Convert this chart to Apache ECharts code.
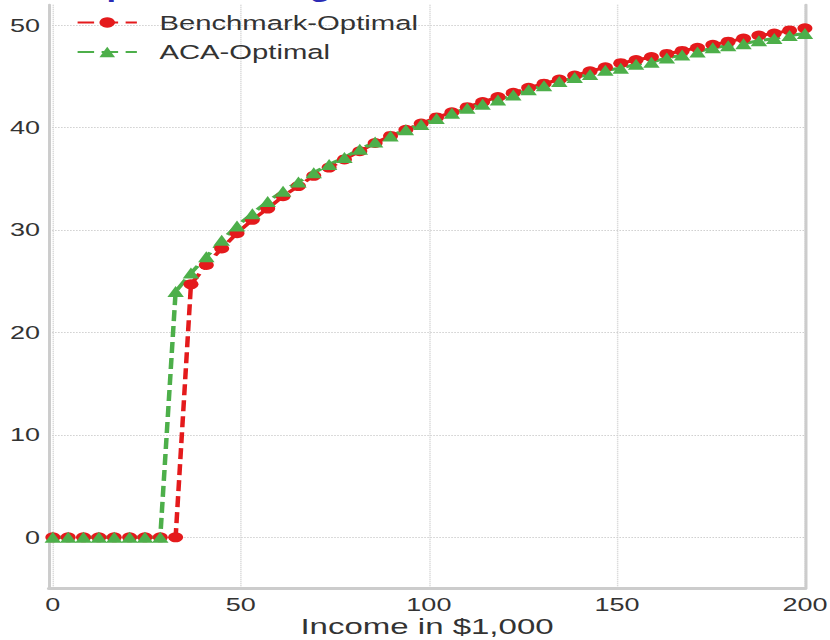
<!DOCTYPE html>
<html>
<head>
<meta charset="utf-8">
<script src="https://cdn.jsdelivr.net/npm/echarts@6/dist/echarts.min.js"></script>
<style>
html,body{margin:0;padding:0;width:830px;height:640px;overflow:hidden;background:#fff;}
#chart{position:absolute;left:0;top:0;width:553px;height:640px;transform:scaleX(1.5009);transform-origin:0 0;}
</style>
</head>
<body>
<div id="chart"></div>
<script>
// ---- data ----
const titleText = 'Optimal Saving Rate';
const xAxisName = 'Income in $1,000';
const seriesNames = ['Benchmark-Optimal', 'ACA-Optimal'];
const incomes = [0, 4.08, 8.16, 12.24, 16.33, 20.41, 24.49, 28.57, 32.65, 36.73,
  40.82, 44.90, 48.98, 53.06, 57.14, 61.22, 65.31, 69.39, 73.47, 77.55,
  81.63, 85.71, 89.80, 93.88, 97.96, 102.04, 106.12, 110.20, 114.29, 118.37,
  122.45, 126.53, 130.61, 134.69, 138.78, 142.86, 146.94, 151.02, 155.10, 159.18,
  163.27, 167.35, 171.43, 175.51, 179.59, 183.67, 187.76, 191.84, 195.92, 200];
const benchmark = [0, 0, 0, 0, 0, 0, 0, 0, 0, 24.7,
  26.6, 28.2, 29.7, 31.0, 32.1, 33.3, 34.3, 35.3, 36.1, 36.9,
  37.7, 38.5, 39.2, 39.8, 40.4, 41.0, 41.5, 42.0, 42.5, 43.0,
  43.4, 43.9, 44.3, 44.7, 45.1, 45.5, 45.9, 46.3, 46.6, 46.9,
  47.2, 47.5, 47.8, 48.1, 48.4, 48.7, 49.0, 49.2, 49.5, 49.7];
const acaOptimal = [0, 0, 0, 0, 0, 0, 0, 0, 24.0, 25.8,
  27.4, 29.0, 30.4, 31.6, 32.8, 33.8, 34.7, 35.6, 36.4, 37.1,
  37.9, 38.6, 39.2, 39.8, 40.3, 40.9, 41.4, 41.9, 42.3, 42.7,
  43.2, 43.7, 44.1, 44.5, 44.9, 45.2, 45.6, 45.8, 46.2, 46.4,
  46.8, 47.1, 47.4, 47.8, 48.0, 48.2, 48.5, 48.7, 49.0, 49.2];
const xTickStep = 50;
const yTickStep = 10;

// ---- chart ----
const FONT = '"Liberation Sans", Arial, Helvetica, sans-serif';
const RED = '#e41a1c', GREEN = '#4daf4a', SPINE = '#cccccc', GRID = '#cfcfcf', TXT = '#333333';
const chart = echarts.init(document.getElementById('chart'), null, {renderer: 'svg'});
const pairs = (ys) => incomes.map((x, i) => [x, ys[i]]);

chart.setOption({
  animation: false,
  backgroundColor: '#ffffff',
  textStyle: {fontFamily: FONT},
  graphic: [{
    type: 'text', x: 53, y: -11, silent: true,
    style: {text: titleText, fontFamily: FONT, fontSize: 23, fontWeight: 'bold',
            fill: '#2b2bb5', align: 'left', verticalAlign: 'middle'}
  }],
  grid: {left: 32.7, right: 16.7, top: 4.8, bottom: 51.5, containLabel: false, outerBoundsMode: 'none'},
  legend: {
    orient: 'vertical', left: 50.7, top: 12.5, padding: 0,
    itemWidth: 39.5, itemHeight: 13, itemGap: 9.5,
    textStyle: {fontSize: 19.5, color: TXT, lineHeight: 20, padding: [0, 0, 0, 10], fontFamily: FONT},
    data: seriesNames
  },
  xAxis: {
    type: 'value', min: -1, max: 200, minInterval: xTickStep, maxInterval: xTickStep,
    axisLine: {show: true, onZero: false, lineStyle: {color: SPINE, width: 3}},
    axisTick: {show: false},
    axisLabel: {showMinLabel: false, fontSize: 18, color: TXT, margin: 7, fontFamily: FONT},
    splitLine: {show: true, showMinLine: false, lineStyle: {type: 'dotted', color: GRID, width: 1}},
    name: xAxisName, nameLocation: 'middle', nameGap: 38, nameMoveOverlap: false,
    nameTextStyle: {fontSize: 22, color: TXT, fontFamily: FONT, verticalAlign: 'middle'}
  },
  yAxis: [{
    type: 'value', min: -5, max: 52, minInterval: yTickStep, maxInterval: yTickStep,
    axisLine: {show: true, onZero: false, lineStyle: {color: SPINE, width: 2}},
    axisTick: {show: false},
    axisLabel: {showMinLabel: false, showMaxLabel: false, fontSize: 18, color: TXT, margin: 6, fontFamily: FONT},
    splitLine: {show: true, showMinLine: false, showMaxLine: false, lineStyle: {type: 'dotted', color: GRID, width: 1}}
  }, {
    type: 'value', position: 'right', min: -5, max: 52,
    axisLine: {show: true, onZero: false, lineStyle: {color: SPINE, width: 2}},
    axisTick: {show: false}, axisLabel: {show: false}, splitLine: {show: false}
  }],
  series: [{
    name: seriesNames[0], type: 'line', data: pairs(benchmark),
    symbol: 'circle', symbolSize: 10, showAllSymbol: true, clip: false,
    lineStyle: {color: RED, width: 3, type: [11, 5]},
    itemStyle: {color: RED}
  }, {
    name: seriesNames[1], type: 'line', data: pairs(acaOptimal),
    symbol: 'triangle', symbolSize: 11, showAllSymbol: true, clip: false,
    lineStyle: {color: GREEN, width: 3, type: [11, 5]},
    itemStyle: {color: GREEN}
  }]
});
</script>
</body>
</html>
